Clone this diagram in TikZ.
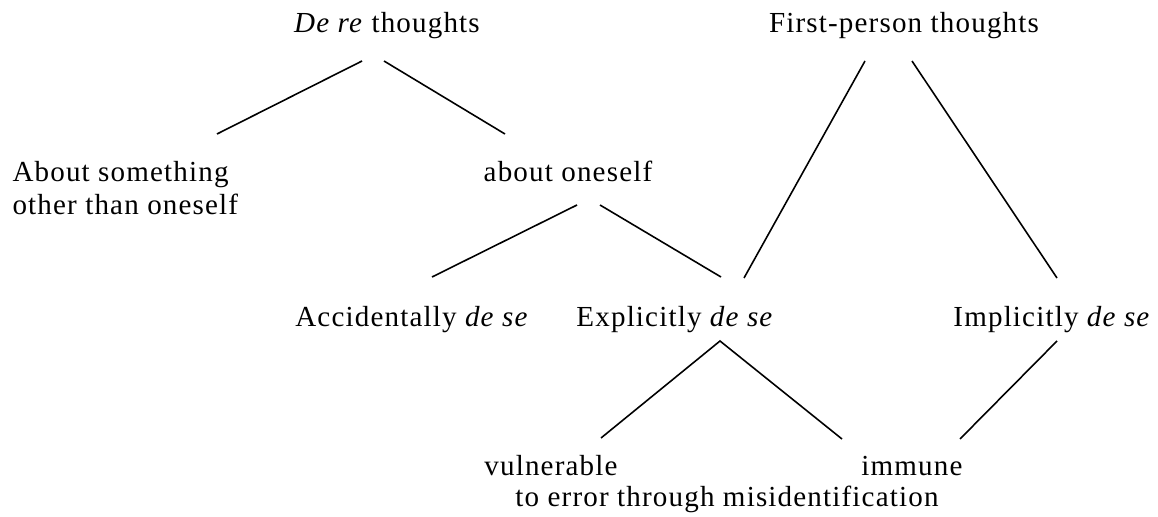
\documentclass[tikz,border=0pt]{standalone}
\usepackage{fontspec}
\setmainfont[LetterSpace=4]{Liberation Serif}
\usetikzlibrary{calc}

\begin{document}
\begin{tikzpicture}[x=0.3785pt,y=-0.3785pt,
  lbl/.style={inner sep=0pt,anchor=base,font=\fontsize{11}{12.5}\selectfont},
  edge/.style={line width=0.6pt}]
\useasboundingbox (0,0) rectangle (1158,517);
% the labels
\node[lbl] (dere) at (387,32) {\textit{De re} thoughts};
\node[lbl] (first) at (904,32) {First-person thoughts};
\node[lbl,anchor=north west,align=left] (other) at (12,161) {About something\\other than oneself};
\node[lbl] (about) at (568,181) {about oneself};
\node[lbl] (acc) at (412,326) {Accidentally \textit{de se}};
\node[lbl] (expl) at (675,326) {Explicitly \textit{de se}};
\node[lbl] (impl) at (1052,326) {Implicitly \textit{de se}};
\node[lbl] (vuln) at (551,475) {vulnerable};
\node[lbl] (imm) at (912,475) {immune};
\node[lbl] (misid) at (727,506) {to error through misidentification};
% the lines
\draw[edge] ($(dere.base)+(-25,29)$) -- ($(other.north west)+(205,-27)$);
\draw[edge] ($(dere.base)+(-3,29)$) -- ($(about.base)+(-63,-47)$);
\draw[edge] ($(about.base)+(9,24)$) -- ($(acc.base)+(20,-49)$);
\draw[edge] ($(about.base)+(32,24)$) -- ($(expl.base)+(46,-49)$);
\draw[edge] ($(first.base)+(-39,29)$) -- ($(expl.base)+(69,-48)$);
\draw[edge] ($(first.base)+(8,29)$) -- ($(impl.base)+(5,-48)$);
\draw[edge] ($(vuln.base)+(50,-37)$) -- ($(expl.base)+(45,15)$) -- ($(imm.base)+(-70,-36)$);
\draw[edge] ($(impl.base)+(5,15)$) -- ($(imm.base)+(48,-36)$);
\end{tikzpicture}
\end{document}
